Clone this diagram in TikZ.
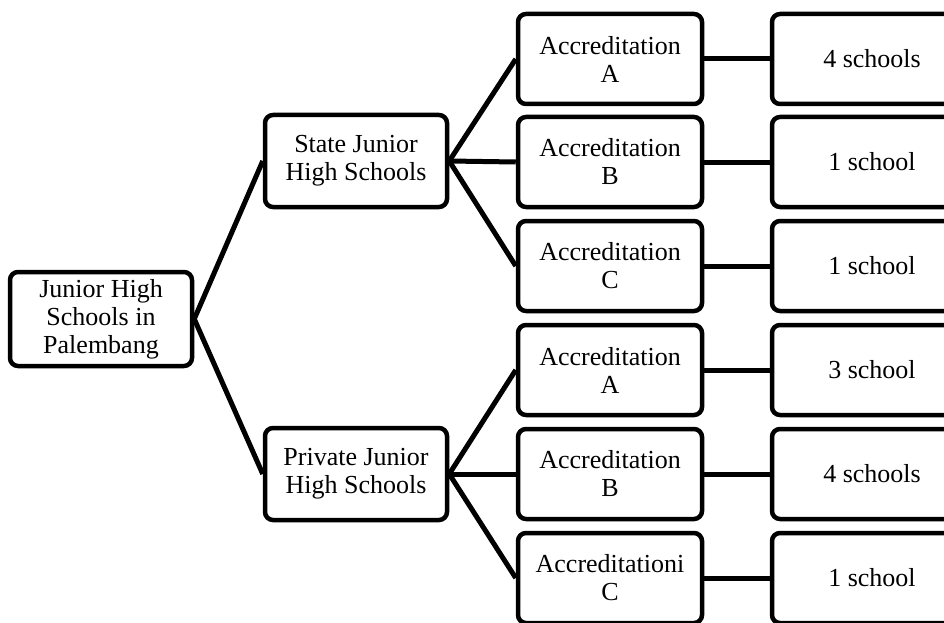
\documentclass[tikz,border=0pt]{standalone}
\usepackage{fontspec}
\setmainfont{Liberation Serif}
\tikzset{box/.style={shape=rectangle,draw=black,line width=4.5pt,rounded corners=8pt,
		minimum width=182pt,minimum height=90pt,align=center,inner sep=2pt,
		font=\fontsize{26pt}{28pt}\selectfont},
	link/.style={draw=black,line width=5pt}}
\begin{document}
\begin{tikzpicture}[x=1pt,y=-1pt]
		\useasboundingbox (0,0) rectangle (944,623);
			\node[box,minimum height=94pt] (root) at (101,319) {Junior High\\Schools in\\Palembang};
			\node[box,minimum height=92pt] (state) at (356,161) {State Junior\\High Schools};
			\node[box,minimum height=92pt] (private) at (356,474) {Private Junior\\High Schools};
			\node[box,minimum width=184pt] (sA) at (610,59) {Accreditation\\A};
			\node[box,minimum width=184pt] (sB) at (610,162) {Accreditation\\B};
			\node[box,minimum width=184pt] (sC) at (610,266) {Accreditation\\C};
			\node[box,minimum width=184pt] (pA) at (610,370) {Accreditation\\A};
			\node[box,minimum width=184pt] (pB) at (610,474) {Accreditation\\B};
			\node[box,minimum width=184pt] (pC) at (610,578) {Accreditationi\\C};
			\node[box,minimum width=200pt] (nsA) at (872,59) {4 schools};
			\node[box,minimum width=200pt] (nsB) at (872,162) {1 school};
			\node[box,minimum width=200pt] (nsC) at (872,266) {1 school};
			\node[box,minimum width=200pt] (npA) at (872,370) {3 school};
			\node[box,minimum width=200pt] (npB) at (872,474) {4 schools};
			\node[box,minimum width=200pt] (npC) at (872,578) {1 school};
		
			\path [link](root.east) edge (state.west);
			\path [link](root.east) edge (private.west);
			\path [link](state.east) edge (sA.west);
			\path [link](state.east) edge (sB.west);
			\path [link](state.east) edge (sC.west);
			\path [link](private.east) edge (pA.west);
			\path [link](private.east) edge (pB.west);
			\path [link](private.east) edge (pC.west);
			\path [link](sA) edge (nsA);
			\path [link](sB) edge (nsB);
			\path [link](sC) edge (nsC);
			\path [link](pA) edge (npA);
			\path [link](pB) edge (npB);
			\path [link](pC) edge (npC);
		\end{tikzpicture}
\end{document}
